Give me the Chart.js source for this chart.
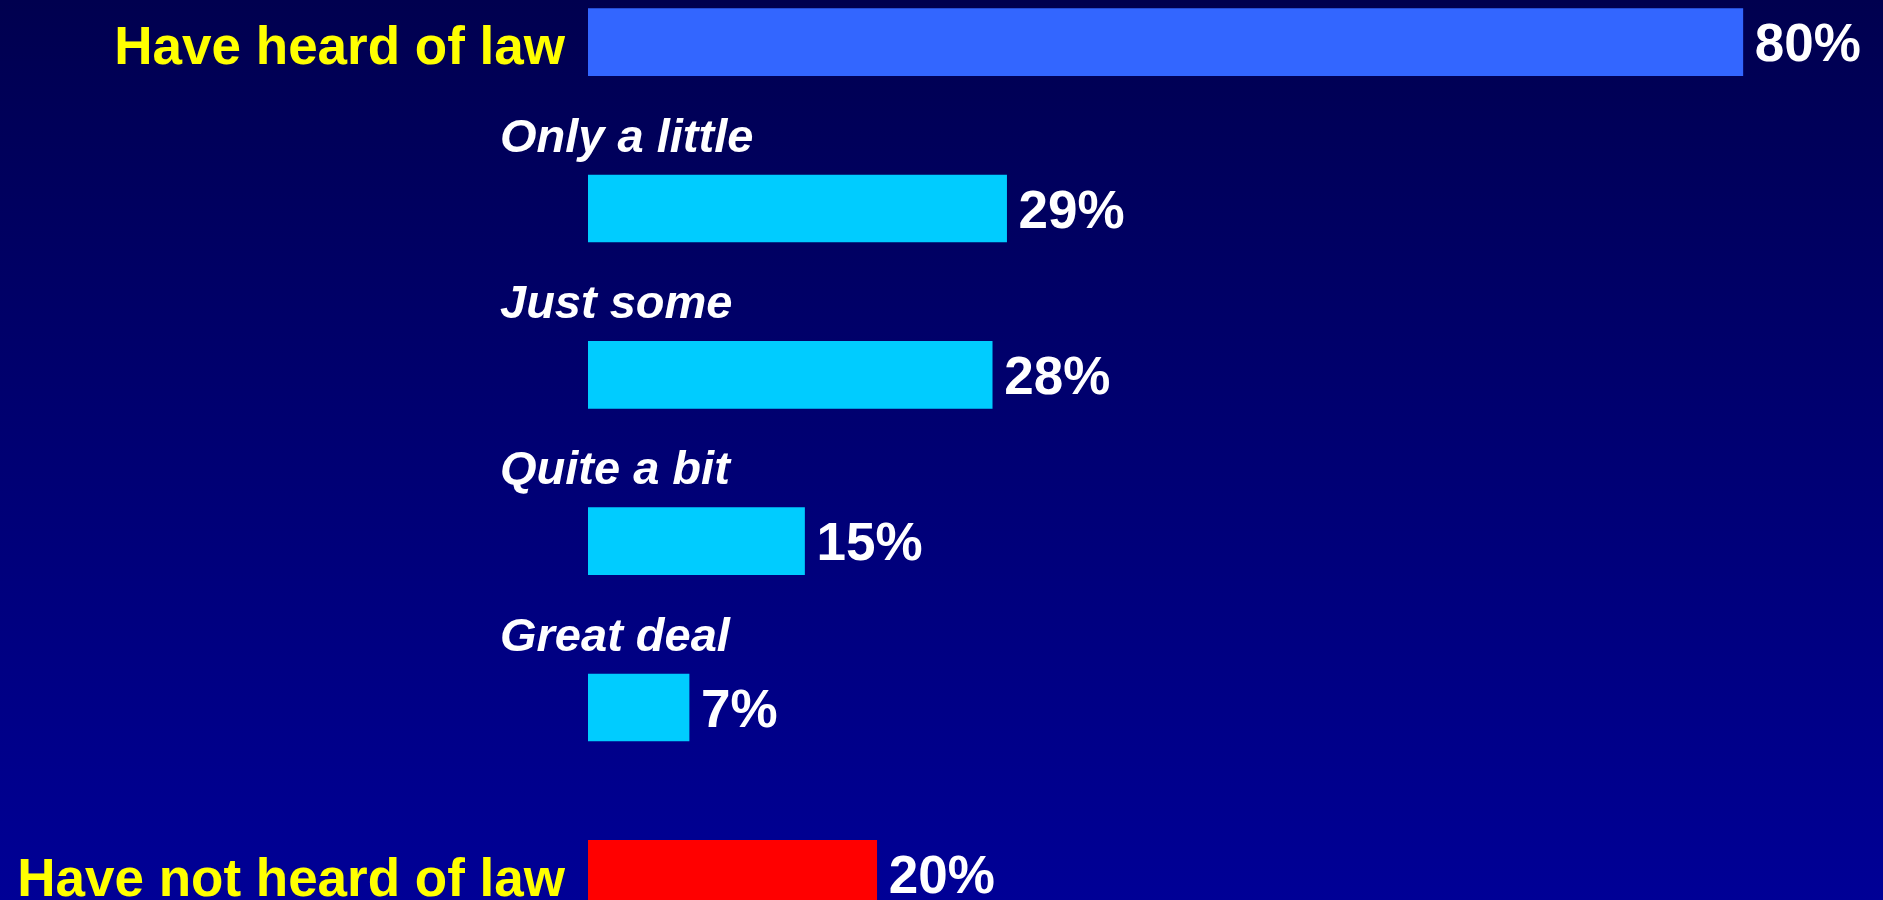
<!DOCTYPE html>
<html>
<head>
<meta charset="utf-8">
<title>Heard of law</title>
<script src="https://cdn.jsdelivr.net/npm/chart.js"></script>
<style>
    html, body {
        margin: 0;
        padding: 0;
        width: 1883px;
        height: 900px;
        overflow: hidden;
        background: linear-gradient(to bottom, #00004f 0%, #000096 100%);
    }
    #wrap {
        position: absolute;
        left: 0;
        top: -41px;
        width: 1883px;
        height: 998px;
    }
</style>
</head>
<body>
<div id="wrap"><canvas id="mycanvas" width="1883" height="998"></canvas></div>
<script>
    // answers, top to bottom
    var categories = ['Have heard of law', 'Only a little', 'Just some', 'Quite a bit', 'Great deal', 'Have not heard of law'];
    var percents = [80, 29, 28, 15, 7, 20];
    // 'main' rows get the yellow label on the left, 'sub' rows the italic label above the bar
    var rowKinds = ['main', 'sub', 'sub', 'sub', 'sub', 'main'];

    var barColors = ['#3366ff', '#00ccff', '#00ccff', '#00ccff', '#00ccff', '#ff0000'];

    var labelPlugin = {
        id: 'labelPlugin',
        afterDatasetsDraw: function (chart) {
            var ctx = chart.ctx;
            var area = chart.chartArea;
            var meta = chart.getDatasetMeta(0);
            ctx.save();
            ctx.textBaseline = 'alphabetic';
            for (var i = 0; i < meta.data.length; i++) {
                var bar = meta.data[i];

                // value at the end of the bar
                ctx.font = 'bold 53px "Liberation Sans", Arial, sans-serif';
                ctx.fillStyle = '#ffffff';
                ctx.textAlign = 'left';
                ctx.fillText(percents[i] + '%', bar.x + 12, bar.y + 19);

                if (rowKinds[i] == 'main') {
                    ctx.fillStyle = '#ffff00';
                    ctx.textAlign = 'right';
                    ctx.fillText(categories[i], area.left - 23, bar.y + 22);
                } else {
                    ctx.font = 'italic bold 47px "Liberation Sans", Arial, sans-serif';
                    ctx.fillStyle = '#ffffff';
                    ctx.textAlign = 'left';
                    ctx.fillText(categories[i], area.left - 88, bar.y - 57);
                }
            }
            ctx.restore();
        }
    };

    var chartdata = {
        labels: categories,
        datasets: [
            {
                label: 'Heard of law',
                backgroundColor: barColors,
                borderWidth: 0,
                barThickness: 67,
                data: percents
            }
        ]
    };

    var ctx = document.getElementById('mycanvas');

    var mycanvas = new Chart(ctx, {
        type: 'bar',
        data: chartdata,
        plugins: [labelPlugin],
        options: {
            indexAxis: 'y',
            responsive: false,
            animation: false,
            layout: {
                padding: { left: 588, right: 68, top: 0, bottom: 0 }
            },
            plugins: {
                legend: { display: false },
                tooltip: { enabled: false }
            },
            scales: {
                x: { display: false, min: 0, max: 85 },
                y: { display: false }
            }
        }
    });
</script>
</body>
</html>
